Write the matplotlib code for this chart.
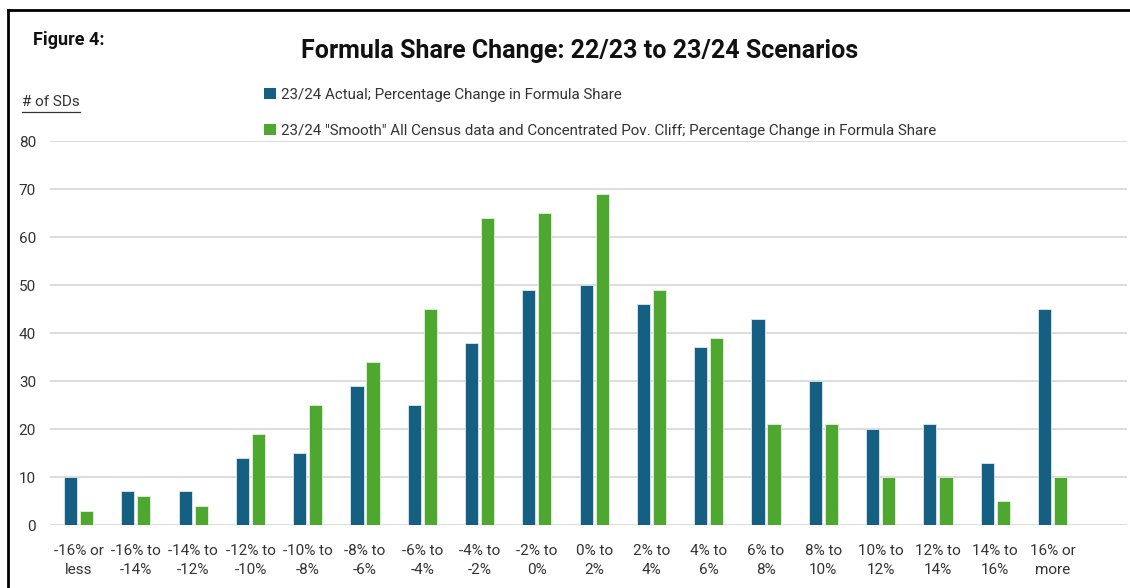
import matplotlib
matplotlib.use("Agg")
import matplotlib.pyplot as plt
from matplotlib.lines import Line2D
from matplotlib.patches import Patch
import numpy as np

plt.rcParams['font.family'] = ['Roboto', 'DejaVu Sans']

# bins of percentage change
categories = ['-16% or\nless', '-16% to\n-14%', '-14% to\n-12%', '-12% to\n-10%',
              '-10% to\n-8%', '-8% to\n-6%', '-6% to\n-4%', '-4% to\n-2%',
              '-2% to\n0%', '0% to\n2%', '2% to\n4%', '4% to\n6%', '6% to\n8%',
              '8% to\n10%', '10% to\n12%', '12% to\n14%', '14% to\n16%',
              '16% or\nmore']
actual = [10, 7, 7, 14, 15, 29, 25, 38, 49, 50, 46, 37, 43, 30, 20, 21, 13, 45]
smooth = [3, 6, 4, 19, 25, 34, 45, 64, 65, 69, 49, 39, 21, 21, 10, 10, 5, 10]

label_actual = '23/24 Actual; Percentage Change in Formula Share'
label_smooth = ('23/24 "Smooth" All Census data and Concentrated Pov. Cliff; '
                'Percentage Change in Formula Share')

blue = '#156082'
green = '#4EA72E'

fig = plt.figure(figsize=(11.3, 5.88), dpi=100)
ax = fig.add_axes([0.0442, 0.1071, 0.9531, 0.6531])

x = np.arange(len(categories))
w = 0.23
ax.bar(x - 0.14, actual, w, color=blue, edgecolor='#dfe8ee', linewidth=0.6, zorder=3)
ax.bar(x + 0.14, smooth, w, color=green, edgecolor='#e3f0dc', linewidth=0.6, zorder=3)

ax.set_ylim(0, 80)
ax.set_xlim(-0.5, 18.3)
ax.set_yticks(range(0, 81, 10))
ax.yaxis.grid(True, color='#d9d9d9', linewidth=1.3, zorder=0)
ax.set_axisbelow(True)
for s in ax.spines.values():
    s.set_visible(False)
ax.set_xticks(x)
ax.set_xticklabels(categories, fontsize=11, color='#333333', linespacing=1.45)
ax.tick_params(axis='x', length=0, pad=14)
ax.tick_params(axis='y', length=0, pad=10, labelsize=11, labelcolor='#333333')

# titles
fig.text(0.513, 0.913, 'Formula Share Change: 22/23 to 23/24 Scenarios',
         ha='center', va='center', fontsize=18, fontweight='bold', color='#111111')
fig.text(0.029, 0.932, 'Figure 4:', ha='left', va='center', fontsize=13,
         fontweight='bold', color='#111111')
fig.text(0.0195, 0.826, '# of SDs', ha='left', va='center', fontsize=11, color='#333333')
fig.add_artist(Line2D([0.0195, 0.0705], [0.809, 0.809], color='#333333', linewidth=0.9))

handles = [Patch(facecolor=blue), Patch(facecolor=green)]
fig.legend(handles, [label_actual, label_smooth], loc='upper left',
           bbox_to_anchor=(0.222, 0.874), frameon=False, fontsize=10.9,
           handlelength=0.75, handleheight=0.75, handletextpad=0.35,
           labelspacing=1.45, labelcolor='#333333')

# frame around the figure (top and left edges visible in the crop)
fig.add_artist(Line2D([0.007, 1.0], [0.983, 0.983], color='black', linewidth=2))
fig.add_artist(Line2D([0.007, 0.007], [0.0, 0.983], color='black', linewidth=2))

fig.savefig('out.png', dpi=100)
